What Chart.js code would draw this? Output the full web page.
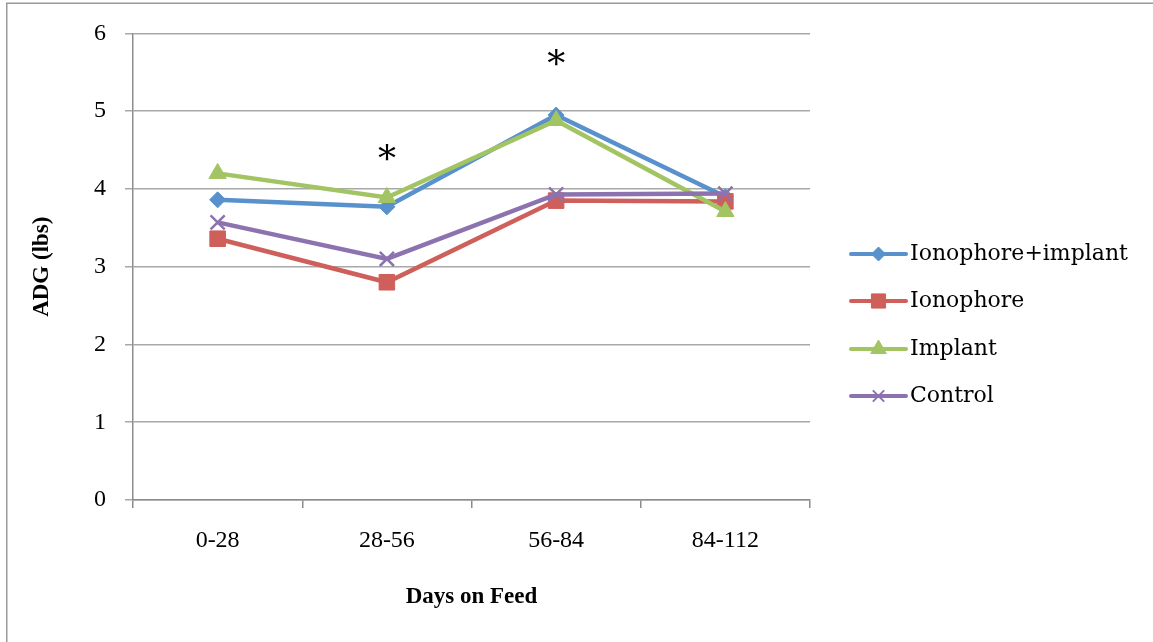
<!DOCTYPE html>
<html>
<head>
<meta charset="utf-8">
<script src="https://cdn.jsdelivr.net/npm/chart.js@4.4.0/dist/chart.umd.min.js"></script>
<style>
  html, body { margin: 0; padding: 0; background: #ffffff; }
  #wrap { position: relative; width: 1153px; height: 642px; }
</style>
</head>
<body>
<div id="wrap"><canvas id="c" width="1153" height="642"></canvas></div>
<script>
// ---- data ----
const categories = ['0-28', '28-56', '56-84', '84-112'];
const seriesNames = ['Ionophore+implant', 'Ionophore', 'Implant', 'Control'];
const ionophoreImplant = [3.86, 3.77, 4.95, 3.90];
const ionophore = [3.36, 2.80, 3.85, 3.84];
const implant = [4.20, 3.89, 4.88, 3.71];
const control = [3.57, 3.10, 3.93, 3.94];
const yTicks = [0, 1, 2, 3, 4, 5, 6];
const starCategories = ['28-56', '56-84'];
const starValues = [4.47, 5.69];

// ---- styles ----
const colors = ['#5891CC', '#CF5F5A', '#A3C463', '#8C73B0'];
const pointStyles = ['rectRot', 'rect', 'triangle', 'crossRot'];
const pointRadii = [8, 11, 10, 10];
const drawOrder = [4, 3, 2, 1];
const serif = 'Liberation Serif';

const seriesValues = [ionophoreImplant, ionophore, implant, control];
const datasets = seriesNames.map((name, i) => ({
  label: name,
  data: seriesValues[i],
  borderColor: colors[i],
  backgroundColor: colors[i],
  borderWidth: 4.5,
  pointStyle: pointStyles[i],
  pointRadius: pointRadii[i],
  pointBorderWidth: pointStyles[i] === 'crossRot' ? 2.5 : 1,
  pointBorderColor: colors[i],
  pointBackgroundColor: colors[i],
  order: drawOrder[i],
  tension: 0,
  fill: false
}));

const framePlugin = {
  id: 'frame',
  beforeDraw(chart) {
    const ctx = chart.ctx;
    ctx.save();
    ctx.strokeStyle = '#9a9a9a';
    ctx.lineWidth = 1.5;
    ctx.beginPath();
    ctx.moveTo(6.75, 700);
    ctx.lineTo(6.75, 3.25);
    ctx.lineTo(1200, 3.25);
    ctx.stroke();
    ctx.restore();
  }
};

const starPlugin = {
  id: 'stars',
  afterDatasetsDraw(chart) {
    const ctx = chart.ctx;
    const xs = chart.scales.x, ys = chart.scales.y;
    ctx.save();
    ctx.fillStyle = '#000';
    ctx.font = '36px "DejaVu Serif"';
    ctx.textAlign = 'center';
    ctx.textBaseline = 'alphabetic';
    starCategories.forEach((cat, i) => {
      const x = xs.getPixelForValue(categories.indexOf(cat));
      const y = ys.getPixelForValue(starValues[i]);
      const m = ctx.measureText('*');
      const a = m.actualBoundingBoxAscent, d = m.actualBoundingBoxDescent;
      ctx.fillText('*', x, y + (a - d) / 2);
    });
    ctx.restore();
  }
};

const legendPlugin = {
  id: 'customLegend',
  afterDraw(chart) {
    const ctx = chart.ctx;
    const x0 = 851, x1 = 906, xt = 910;
    const ys = [254, 301, 349, 396];
    const legendRadii = [7, 10, 9, 8];
    ctx.save();
    chart.data.datasets.forEach((ds, i) => {
      const y = ys[i];
      ctx.strokeStyle = ds.borderColor;
      ctx.lineWidth = 4;
      ctx.lineCap = 'round';
      ctx.beginPath();
      ctx.moveTo(x0, y);
      ctx.lineTo(x1, y);
      ctx.stroke();
      ctx.lineCap = 'butt';
      ctx.fillStyle = ds.backgroundColor;
      ctx.strokeStyle = ds.borderColor;
      ctx.lineWidth = ds.pointStyle === 'crossRot' ? 2 : 1;
      Chart.helpers.drawPoint(ctx, { pointStyle: ds.pointStyle, radius: legendRadii[i], rotation: 0, borderWidth: ctx.lineWidth }, (x0 + x1) / 2, y);
      ctx.fillStyle = '#000';
      ctx.font = '22px "DejaVu Serif"';
      ctx.textAlign = 'left';
      ctx.textBaseline = 'middle';
      ctx.fillText(ds.label, xt, y);
    });
    ctx.restore();
  }
};

new Chart(document.getElementById('c'), {
  type: 'line',
  data: { labels: categories, datasets },
  options: {
    responsive: false,
    animation: false,
    events: [],
    layout: { padding: { top: 33, left: 0, right: 343, bottom: 0 } },
    plugins: {
      legend: { display: false },
      tooltip: { enabled: false },
      title: { display: false }
    },
    scales: {
      x: {
        type: 'category',
        offset: true,
        grid: {
          offset: true,
          drawOnChartArea: false,
          drawTicks: true,
          tickLength: 8,
          color: '#8c8c8c',
          lineWidth: 1.5
        },
        border: { display: true, color: '#8c8c8c', width: 1.5 },
        ticks: {
          color: '#000',
          padding: 18,
          maxRotation: 0,
          font: { family: serif, size: 24 }
        },
        title: {
          display: true,
          text: 'Days on Feed',
          color: '#000',
          font: { family: serif, size: 23, weight: 'bold' },
          padding: { top: 0, bottom: 31 }
        },
        afterFit(s) { s.height = 142; }
      },
      y: {
        min: 0,
        max: 6,
        afterBuildTicks(s) { s.ticks = yTicks.map(v => ({ value: v })); },
        grid: {
          drawOnChartArea: true,
          drawTicks: true,
          tickLength: 8,
          color: '#a8a8a8',
          lineWidth: 1.5
        },
        border: { display: true, color: '#8c8c8c', width: 1.5 },
        ticks: {
          color: '#000',
          padding: 19,
          font: { family: serif, size: 24 }
        },
        title: {
          display: true,
          text: 'ADG (lbs)',
          color: '#000',
          font: { family: serif, size: 23, weight: 'bold' },
          padding: { top: 28, bottom: 0 }
        },
        afterFit(s) { s.width = 133; }
      }
    }
  },
  plugins: [framePlugin, starPlugin, legendPlugin]
});
</script>
</body>
</html>
